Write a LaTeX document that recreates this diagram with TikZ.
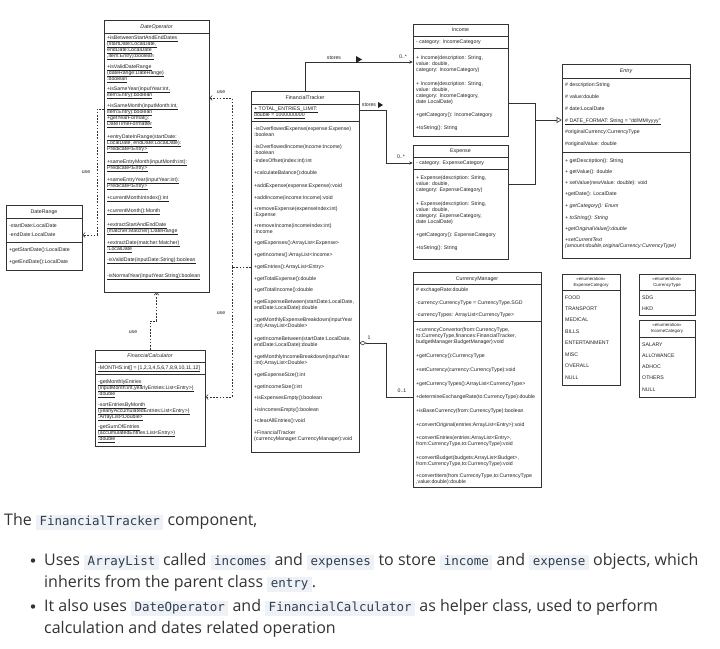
\documentclass[tikz,border=0pt]{standalone}
\usepackage{fontspec}
\setmainfont{Liberation Sans}
\newfontfamily\bodyfont{Open Sans}
\newfontfamily\codefont{DejaVu Sans Mono}
\usetikzlibrary{arrows.meta,fit}
\definecolor{ink}{HTML}{222222}
\definecolor{edge}{HTML}{333333}
\definecolor{bodytext}{HTML}{333333}
\definecolor{codebg}{HTML}{EEF2F6}
\definecolor{codetext}{HTML}{2F3D4C}
\tikzset{
 utxt/.style={inner sep=0pt, font=\fontsize{5.2}{6}\selectfont, text=ink, anchor=base west},
 uttl/.style={inner sep=0pt, font=\fontsize{5.3}{6}\selectfont, text=ink, anchor=base},
 uenum/.style={inner sep=0pt, font=\fontsize{4.4}{5}\selectfont, text=ink, anchor=base},
 ubox/.style={draw=edge, line width=0.55pt, inner sep=0pt, fill=white},
 usep/.style={draw=edge, line width=0.55pt},
 uline/.style={draw=ink, line width=0.3pt},
 assoc/.style={draw=edge, line width=0.55pt, -{Stealth[length=3.5pt,width=3.2pt]}},
 dep/.style={draw=edge, line width=0.5pt, dash pattern=on 1.6pt off 1.6pt, -{Straight Barb[length=2.6pt,width=5pt]}},
 inh/.style={draw=edge, line width=0.55pt, -{Triangle[open,length=5pt,width=6pt]}},
 aggr/.style={draw=edge, line width=0.55pt, {Diamond[open,length=7pt,width=4.5pt]}-},
 elbl/.style={inner sep=0pt, font=\fontsize{5.2}{6}\selectfont, text=ink},
 btxt/.style={inner sep=0pt, anchor=base west, font=\bodyfont\fontsize{16}{18}\selectfont, text=bodytext},
}
\newcounter{tx}
\newcommand\Tx[3]{\stepcounter{tx}\node[utxt] (tx\arabic{tx}) at (#1,#2+1.9) {#3};}
\newcommand\Tu[3]{\stepcounter{tx}\node[utxt] (tx\arabic{tx}) at (#1,#2+1.9) {#3};
  \draw[uline] ([yshift=-0.75pt]tx\arabic{tx}.base west) -- ([yshift=-0.75pt]tx\arabic{tx}.base east);}
\newcommand\Tc[3]{\stepcounter{tx}\node[uttl] (tx\arabic{tx}) at (#1,#2+1.9) {#3};}
\newcommand\Te[3]{\stepcounter{tx}\node[uenum] (tx\arabic{tx}) at (#1,#2+1.6) {#3};}
\newcommand\UBox[5]{\node[ubox, fit={(#2,#3) (#4,#5)}] (#1) {};}
\newcommand\Sep[2]{\draw[usep] (#1.west |- 0,#2) -- (#1.east |- 0,#2);}
\newcommand\cd[1]{{\setlength{\fboxsep}{0pt}\colorbox{codebg}{\rule[-4.5pt]{0pt}{15pt}\hspace{3.5pt}{\codefont\fontsize{12.5}{14}\selectfont\color{codetext}#1}\hspace{3.5pt}}}}
\begin{document}
\begin{tikzpicture}[x=1pt,y=-1pt]
\fill[white] (0,0) rectangle (720,648);
\useasboundingbox (0,0) rectangle (720,648);

% ---------- DateOperator
\UBox{dop}{104}{20}{209}{292}
\Tc{156.5}{27}{\itshape DateOperator}
\Sep{dop}{33}
\Tu{107}{38}{+isBetweenStartAndEndDates}
\Tu{107}{44}{(startDate:LocalDate,}
\Tu{107}{50}{endDate:LocalDate}
\Tu{107}{56}{,item:Entry):boolean}
\Tu{107}{67}{+isValidDateRange}
\Tu{107}{73}{(dateRange:DateRange)}
\Tu{107}{79}{:boolean}
\Tu{107}{89}{+isSameYear(inputYear:int,}
\Tu{107}{95}{item:Entry):boolean}
\Tu{107}{106}{+isSameMonth(inputMonth:int,}
\Tu{107}{112}{item:Entry):boolean}
\Tu{107}{118}{+getYearFormat():}
\Tu{107}{124}{DateTimeFormatter}
\Tu{107}{137}{+entryDateInRange(startDate:}
\Tu{107}{143}{LocalDate, endDate:LocalDate):}
\Tu{107}{149}{Predicate<Entry>}
\Tu{107}{162}{+sameEntryMonth(inputMonth:int):}
\Tu{107}{168}{Predicate<Entry>}
\Tu{107}{180}{+sameEntryYear(inputYear:int):}
\Tu{107}{186}{Predicate<Entry>}
\Tu{107}{198}{+currentMonthInIndex():int}
\Tu{107}{211}{+currentMonth():Month}
\Tu{107}{225}{+extractStartAndEndDate}
\Tu{107}{231}{(matcher:Matcher):DateRange}
\Tu{107}{243}{+extractDate(matcher:Matcher)}
\Tu{107}{249}{:LocalDate}
\Tu{107}{260}{-isValidDate(inputDate:String):boolean}
\Tu{107}{276}{-isNormalYear(inputYear:String):boolean}

% ---------- DateRange
\UBox{dr}{6}{205}{82}{270}
\Tc{44}{212}{DateRange}
\Sep{dr}{218}
\Tx{9}{226}{-startDate:LocalDate}
\Tx{9}{235}{-endDate:LocalDate}
\Sep{dr}{242}
\Tx{9}{250}{+getStartDate():LocalDate}
\Tx{9}{262}{+getEndDate():LocalDate}

% ---------- FinancialTracker
\UBox{ft}{251}{91}{359}{452}
\Tc{305}{98}{FinancialTracker}
\Sep{ft}{104}
\Tu{254}{109}{+ TOTAL\_ENTRIES\_LIMIT:}
\Tu{254}{115}{double = 1000000000}
\Sep{ft}{121}
\Tx{254}{129}{-isOverflowedExpense(expense:Expense)}
\Tx{254}{135}{:boolean}
\Tx{254}{147}{-isOverflowedIncome(income:Income)}
\Tx{254}{153}{:boolean}
\Tx{254}{161}{-indexOffset(index:int):int}
\Tx{254}{173}{+calculateBalance():double}
\Tx{254}{186}{+addExpense(expense:Expense):void}
\Tx{254}{198}{+addIncome(income:Income):void}
\Tx{254}{209}{+removeExpense(expenseIndex:int)}
\Tx{254}{215}{:Expense}
\Tx{254}{226}{+removeIncome(incomeIndex:int)}
\Tx{254}{232}{:Income}
\Tx{254}{243}{+getExpenses():ArrayList<Expense>}
\Tx{254}{255}{+getIncomes():ArrayList<Income>}
\Tx{254}{267}{+getEntries():ArrayList<Entry>}
\Tx{254}{279}{+getTotalExpense():double}
\Tx{254}{290}{+getTotalIncome():double}
\Tx{254}{302}{+getExpenseBetween(startDate:LocalDate,}
\Tx{254}{308}{endDate:LocalDate):double}
\Tx{254}{320}{+getMonthlyExpenseBreakdown(inputYear}
\Tx{254}{326}{:int):ArrayList<Double>}
\Tx{254}{339}{+getIncomeBetween(startDate:LocalDate,}
\Tx{254}{345}{endDate:LocalDate):double}
\Tx{254}{357}{+getMonthlyIncomeBreakdown(inputYear}
\Tx{254}{363}{:int):ArrayList<Double>}
\Tx{254}{375}{+getExpenseSize():int}
\Tx{254}{387}{+getIncomeSize():int}
\Tx{254}{398}{+isExpensesEmpty():boolean}
\Tx{254}{410}{+isIncomesEmpty():boolean}
\Tx{254}{421}{+clearAllEntries():void}
\Tx{254}{433}{+FinancialTracker}
\Tx{254}{439}{(currencyManager:CurrencyManager):void}

% ---------- Income
\UBox{inc}{413}{24}{508}{136}
\Tc{460.5}{30}{Income}
\Sep{inc}{36}
\Tx{416}{42}{- category: IncomeCategory}
\Sep{inc}{48}
\Tx{416}{58}{+ Income(description: String,}
\Tx{416}{64}{value: double,}
\Tx{416}{70}{category: IncomeCategory)}
\Tx{416}{84}{+ Income(description: String,}
\Tx{416}{90}{value: double,}
\Tx{416}{96}{category: IncomeCategory,}
\Tx{416}{102}{date LocalDate)}
\Tx{416}{115}{+getCategory(): IncomeCategory}
\Tx{416}{128}{+toString(): String}

% ---------- Expense
\UBox{exp}{413}{145}{508}{259}
\Tc{460.5}{151}{Expense}
\Sep{exp}{157}
\Tx{416}{163}{- category: ExpenseCategory}
\Sep{exp}{169}
\Tx{416}{178}{+ Expense(description: String,}
\Tx{416}{184}{value: double,}
\Tx{416}{190}{category: ExpenseCategory)}
\Tx{416}{204}{+ Expense(description: String,}
\Tx{416}{210}{value: double,}
\Tx{416}{216}{category: ExpenseCategory,}
\Tx{416}{222}{date LocalDate)}
\Tx{416}{235}{+getCategory(): ExpenseCategory}
\Tx{416}{248}{+toString(): String}

% ---------- Entry
\UBox{ent}{562}{64}{690}{258}
\Tc{626}{71}{\itshape Entry}
\Sep{ent}{78}
\Tx{565}{85}{\# description:String}
\Tx{565}{97}{\# value:double}
\Tx{565}{109}{\# date:LocalDate}
\Tu{565}{121}{\# DATE\_FORMAT: String = "dd/MM/yyyy"}
\Tx{565}{132}{\#originalCurrency:CurrencyType}
\Tx{565}{144}{\#originalValue: double}
\Sep{ent}{152}
\Tx{565}{161}{+ getDescription(): String}
\Tx{565}{172}{+ getValue(): double}
\Tx{565}{183}{+ setValue(newValue: double): void}
\Tx{565}{194}{+getDate(): LocalDate}
\Tx{565}{206}{\itshape + getCategory(): Enum}
\Tx{565}{218}{\itshape + toString(): String}
\Tx{565}{229}{\itshape +getOriginalValue():double}
\Tx{565}{240}{\itshape +setCurrentText}
\Tx{565}{246}{\itshape (amount:double,originalCurrency:CurrencyType)}

% ---------- CurrencyManager
\UBox{cm}{413}{272}{541}{487}
\Tc{477}{279}{CurrencyManager}
\Sep{cm}{284}
\Tx{416}{290}{\# exchageRate:double}
\Tx{416}{303}{-currency:CurrencyType = CurrencyType.SGD}
\Tx{416}{315}{-currencyTypes: ArrayList<CurrencyType>}
\Sep{cm}{321}
\Tx{416}{330}{+currencyConvertor(from:CurrencyType,}
\Tx{416}{336}{to:CurrencyType,finances:FinancialTracker,}
\Tx{416}{342}{budgetManager:BudgetManager):void}
\Tx{416}{356}{+getCurrency():CurrencyType}
\Tx{416}{370}{+setCurrency(currency:CurrencyType):void}
\Tx{416}{384}{+getCurrencyTypes():ArrayList<CurrencyType>}
\Tx{416}{397}{+determineExchangeRate(to:CurrencyType):double}
\Tx{416}{411}{+isBaseCurrency(from:CurrencyType):boolean}
\Tx{416}{425}{+convertOriginal(entries:ArrayList<Entry>):void}
\Tx{416}{438}{+convertEntries(entries:ArrayList<Entry>,}
\Tx{416}{444}{from:CurrencyType,to:CurrencyType):void}
\Tx{416}{458}{+convertBudget(budgets:ArrayList<Budget>,}
\Tx{416}{464}{from:CurrencyType,to:CurrencyType):void}
\Tx{416}{476}{+convertItem(from:CurrecnyType,to:CurrencyType}
\Tx{416}{482}{,value:double):double}

% ---------- Enumerations
\UBox{ec}{562}{274}{620}{385}
\Te{591}{279}{<<enumeration>>}
\Te{591}{285}{ExpenseCategory}
\Sep{ec}{290}
\Tx{565}{298}{FOOD}
\Tx{565}{309}{TRANSPORT}
\Tx{565}{320}{MEDICAL}
\Tx{565}{332}{BILLS}
\Tx{565}{343}{ENTERTAINMENT}
\Tx{565}{355}{MISC}
\Tx{565}{366}{OVERALL}
\Tx{565}{378}{NULL}

\UBox{ct}{639}{274}{695}{315}
\Te{667}{279}{<<enumeration>>}
\Te{667}{285}{CurrencyType}
\Sep{ct}{290}
\Tx{642}{298}{SDG}
\Tx{642}{309}{HKD}

\UBox{ic}{639}{320}{695}{397}
\Te{667}{325}{<<enumeration>>}
\Te{667}{331}{IncomeCategory}
\Sep{ic}{337}
\Tx{642}{345}{SALARY}
\Tx{642}{356}{ALLOWANCE}
\Tx{642}{367}{ADHOC}
\Tx{642}{378}{OTHERS}
\Tx{642}{390}{NULL}

% ---------- FinancialCalculator
\UBox{fc}{95}{350}{205}{446}
\Tc{150}{356}{\itshape FinancialCalculator}
\Sep{fc}{362}
\Tu{98}{368}{-MONTHS:int[] = [1,2,3,4,5,6,7,8,9,10,11,12]}
\Sep{fc}{374}
\Tu{98}{382}{-getMonthlyEntries}
\Tu{98}{388}{(inputMonth:int,yearlyEntries:List<Entry>)}
\Tu{98}{394}{:double}
\Tu{98}{405}{-sortEntriesByMonth}
\Tu{98}{411}{(yearlyAccumulatedEntries:List<Entry>)}
\Tu{98}{417}{:ArrayList<Double>}
\Tu{98}{427}{-getSumOfEntries}
\Tu{98}{433}{(accumulatedEntries:List<Entry>)}
\Tu{98}{439}{:double}

% ---------- connectors
\coordinate (jL) at (232,267);
\draw[dep] (ft.west |- jL) -- (jL) |- (dop.east |- 0,98);
\draw[dep] (jL) |- (fc.east |- 0,397);
\draw[dep] (dop.west |- 0,109) -- (97,109) |- (dr.east |- 0,235);
\draw[dep] (fc.north) -- (fc.north |- 0,321) -- (dop.south |- 0,321) -- (dop.south);
\node[elbl] (u1) at (221,92) {use};
\node[elbl] (u2) at (221,313) {use};
\node[elbl] (u3) at (86,172) {use};
\node[elbl] (u4) at (133,332) {use};

\draw[assoc] (ft.north) |- (inc.west |- 0,62);
\draw[assoc] (ft.east |- 0,110) -- (386,110) |- (exp.west |- 0,163);
\draw[aggr] (ft.east |- 0,343) -- (386,343) |- (cm.west |- 0,397);
\coordinate (ih) at (535,120);
\draw[usep] (inc.east |- 0,103) -| (535,184) -- (exp.east |- 0,184);
\draw[inh] (ih) -- (ent.west |- ih);

\node[elbl] (s1) at (334,58) {stores};
\fill[ink] (356,56) -- (362,59.5) -- (356,63) -- cycle;
\node[elbl] (s2) at (369,105) {stores};
\fill[ink] (378,102) -- (383,105) -- (378,108) -- cycle;
\node[elbl] (m1) at (403,57) {0..*};
\node[elbl] (m2) at (401,157) {0..*};
\node[elbl] (m3) at (402,391) {0..1};
\node[elbl] (m4) at (369,338) {1};

% ---------- description text
\node[btxt] (p0) at (4,525.5) {The \cd{FinancialTracker} component,};
\fill[bodytext] (33,560.5) circle (2.2) node (b1) {};
\node[btxt] (p1) at (44,565.5) {Uses \cd{ArrayList} called \cd{incomes} and \cd{expenses} to store \cd{income} and \cd{expense} objects, which};
\node[btxt] (p2) at (44,587.5) {inherits from the parent class \cd{entry}.};
\fill[bodytext] (33,606.5) circle (2.2) node (b2) {};
\node[btxt] (p3) at (44,611.5) {It also uses \cd{DateOperator} and \cd{FinancialCalculator} as helper class, used to perform};
\node[btxt] (p4) at (44,633.5) {calculation and dates related operation};
\end{tikzpicture}
\end{document}
